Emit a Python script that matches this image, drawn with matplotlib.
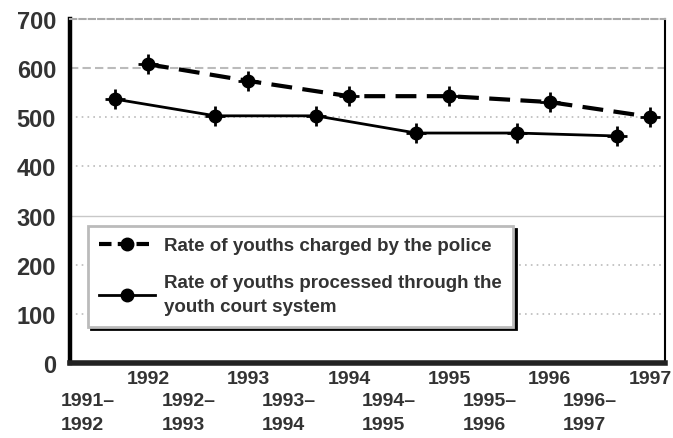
import numpy as np
import matplotlib
matplotlib.use("Agg")
import matplotlib.pyplot as plt
from matplotlib.lines import Line2D

plt.rcParams['font.family'] = ['Liberation Sans', 'DejaVu Sans']
plt.rcParams['font.weight'] = 'bold'

# data
fiscal_labels = ["1991–\n1992", "1992–\n1993", "1993–\n1994",
                 "1994–\n1995", "1995–\n1996", "1996–\n1997"]
calendar_labels = ["1992", "1993", "1994", "1995", "1996", "1997"]
charged_police = [608, 574, 543, 543, 531, 501]
processed_court = [537, 503, 503, 468, 468, 462]
y_ticks = [0, 100, 200, 300, 400, 500, 600, 700]

txt = '#333333'

fig = plt.figure(figsize=(6.73, 4.39), dpi=100)
ax = fig.add_axes([0.104, 0.1708, 0.884, 0.7836])

fx = np.arange(len(fiscal_labels))
cx = fx + 0.33

# horizontal guide lines, each a little different like the original
for v in y_ticks[1:-1]:
    if v == 600:
        ax.axhline(v, color='#bbbbbb', lw=1.5, dashes=(4, 2), zorder=0)
    elif v == 300:
        ax.axhline(v, color='#c8c8c8', lw=1.0, zorder=0)
    else:
        ax.axhline(v, color='#bbbbbb', lw=1.2, dashes=(1, 2.5), zorder=0)

ax.plot(cx, charged_police, color='black', lw=3, dashes=(5, 2.5), zorder=3)
ax.plot(cx, charged_police, 'o', color='black', ms=9, zorder=4)
ax.plot(cx, charged_police, '+', color='black', ms=14, mew=2, zorder=4)

ax.plot(fx, processed_court, color='black', lw=2, zorder=3)
ax.plot(fx, processed_court, 'o', color='black', ms=9, zorder=4)
ax.plot(fx, processed_court, '+', color='black', ms=14, mew=2, zorder=4)

ax.set_xlim(-0.448, 5.478)
ax.set_ylim(0, 700)
ax.set_yticks(y_ticks)
ax.set_yticklabels([str(v) for v in y_ticks], fontsize=17, color=txt)
ax.tick_params(axis='y', length=0, pad=10)

ax.set_xticks(fx)
ax.set_xticklabels(fiscal_labels, fontsize=14, color=txt, ha='right',
                   multialignment='left', linespacing=1.5)
ax.set_xticks(cx, calendar_labels, minor=True, fontsize=14, color=txt)
ax.tick_params(axis='x', which='major', length=0, pad=21)
ax.tick_params(axis='x', which='minor', length=0, pad=5)

ax.spines['left'].set_linewidth(3.2)
ax.spines['left'].set_color('black')
ax.spines['bottom'].set_linewidth(4)
ax.spines['bottom'].set_color('#222222')
ax.spines['top'].set_color('#aaaaaa')
ax.spines['top'].set_linewidth(1.5)
ax.spines['top'].set_linestyle((0, (3, 1.5)))
ax.spines['right'].set_color('black')
ax.spines['right'].set_linewidth(1.5)

h1 = Line2D([], [], color='black', lw=3, dashes=(3, 1.5), marker='o', ms=9)
h2 = Line2D([], [], color='black', lw=2, marker='o', ms=9)
leg = ax.legend([h1, h2],
                ["Rate of youths charged by the police",
                 "Rate of youths processed through the\nyouth court system"],
                loc='upper left', bbox_to_anchor=(0.03, 0.398),
                borderaxespad=0, fontsize=13.5, handlelength=3.0,
                handletextpad=0.45, labelspacing=1.05, borderpad=0.6,
                fancybox=False, shadow={'color': 'black', 'alpha': 1},
                labelcolor=txt, framealpha=1)
for t in leg.get_texts():
    t.set_linespacing(1.55)
leg.get_frame().set_edgecolor('#bbbbbb')
leg.get_frame().set_linewidth(2)

fig.savefig('out.png', dpi=100)
